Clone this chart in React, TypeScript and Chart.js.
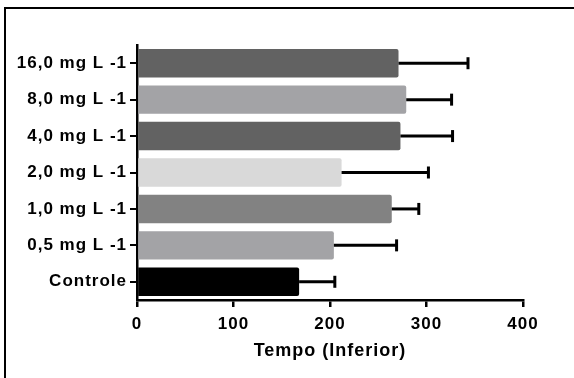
import React, { useEffect, useRef } from "react";
import { Chart, registerables } from "chart.js";

Chart.register(...registerables);

// Treatments, listed top to bottom
const labels = [
  "16,0 mg L -1",
  "8,0 mg L -1",
  "4,0 mg L -1",
  "2,0 mg L -1",
  "1,0 mg L -1",
  "0,5 mg L -1",
  "Controle",
];
// Mean time per treatment
const means = [271, 279, 273, 212, 264, 204, 168];
// Upper error (deviation) per treatment
const errors = [72, 47, 54, 90, 28, 65, 37];
// Bar fills
const barColors = [
  "#626262",
  "#a3a3a6",
  "#626262",
  "#d9d9d9",
  "#828282",
  "#a3a3a6",
  "#000000",
];
const xTicks = [0, 100, 200, 300, 400];

const FONT = "'Liberation Sans', Arial, Helvetica, sans-serif";

// Slightly wider text tracking for all labels
const trackingPlugin = {
  id: "tracking",
  beforeUpdate(chart: any) {
    chart.ctx.letterSpacing = "1px";
  },
  beforeDraw(chart: any) {
    chart.ctx.letterSpacing = "1px";
  },
};

// Draws one-sided (positive) error bars with end caps
const errorBarPlugin = {
  id: "errorBars",
  afterDatasetsDraw(chart: any) {
    const { ctx } = chart;
    const meta = chart.getDatasetMeta(0);
    const xScale = chart.scales.x;
    ctx.save();
    ctx.strokeStyle = "#000";
    meta.data.forEach((bar: any, i: number) => {
      const x0 = xScale.getPixelForValue(means[i]);
      const x1 = xScale.getPixelForValue(means[i] + errors[i]);
      const y = bar.y;
      ctx.lineWidth = 3;
      ctx.beginPath();
      ctx.moveTo(x0, y);
      ctx.lineTo(x1, y);
      ctx.stroke();
      ctx.beginPath();
      ctx.moveTo(x1, y - 6);
      ctx.lineTo(x1, y + 6);
      ctx.stroke();
    });
    ctx.restore();
  },
};

// Frame lines along the top and left edges of the figure
const framePlugin = {
  id: "frame",
  afterDraw(chart: any) {
    const { ctx, width, height } = chart;
    ctx.save();
    ctx.strokeStyle = "#000";
    ctx.lineWidth = 2;
    ctx.beginPath();
    ctx.moveTo(width, 8);
    ctx.lineTo(5, 8);
    ctx.lineTo(5, height);
    ctx.stroke();
    ctx.restore();
  },
};

export default function App() {
  const canvasRef = useRef<HTMLCanvasElement | null>(null);

  useEffect(() => {
    if (!canvasRef.current) return;
    const chart = new Chart(canvasRef.current, {
      type: "bar",
      data: {
        labels,
        datasets: [
          {
            data: means,
            backgroundColor: barColors,
            borderWidth: 0,
            borderRadius: 2,
            borderSkipped: "start",
            barPercentage: 0.78,
            categoryPercentage: 1,
          },
        ],
      },
      options: {
        indexAxis: "y",
        animation: false,
        responsive: false,
        maintainAspectRatio: false,
        layout: { padding: { left: 0, top: 45, right: 51, bottom: 0 } },
        plugins: {
          legend: { display: false },
          tooltip: { enabled: false },
        },
        scales: {
          x: {
            type: "linear",
            min: 0,
            max: 400,
            afterBuildTicks: (scale: any) => {
              scale.ticks = xTicks.map((v) => ({ value: v }));
            },
            afterFit: (scale: any) => {
              scale.height = 78;
            },
            border: { display: true, color: "#000", width: 2.5 },
            grid: {
              display: true,
              drawOnChartArea: false,
              drawTicks: true,
              tickLength: 7,
              color: "#000",
              lineWidth: 2.5,
            },
            ticks: {
              color: "#000",
              padding: 7,
              font: { family: FONT, size: 17, weight: "bold" },
            },
            title: {
              display: true,
              text: "Tempo (Inferior)",
              color: "#000",
              padding: { top: 2, bottom: 16 },
              font: { family: FONT, size: 18, weight: "bold" },
            },
          },
          y: {
            type: "category",
            afterFit: (scale: any) => {
              scale.width = 137;
            },
            border: { display: true, color: "#000", width: 2.5 },
            grid: {
              display: true,
              offset: false,
              drawOnChartArea: false,
              drawTicks: true,
              tickLength: 7,
              color: "#000",
              lineWidth: 2,
            },
            ticks: {
              color: "#000",
              padding: 3,
              font: { family: FONT, size: 17, weight: "bold" },
            },
          },
        },
      },
      plugins: [trackingPlugin, errorBarPlugin, framePlugin],
    } as any);
    return () => chart.destroy();
  }, []);

  return (
    <div
      style={{
        position: "fixed",
        left: 0,
        top: 0,
        width: 574,
        height: 378,
        background: "#fff",
      }}
    >
      <canvas ref={canvasRef} width={574} height={378} />
    </div>
  );
}
